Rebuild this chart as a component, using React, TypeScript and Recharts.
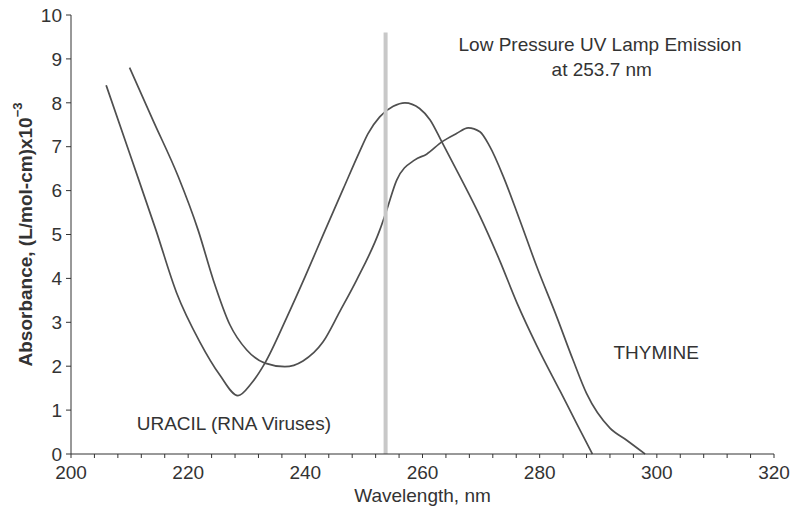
import React from 'react';
import { LineChart, Line, XAxis, YAxis, ReferenceDot, Label } from 'recharts';

const uracilX = [206, 210, 214.5, 218, 222, 225.4, 228.5, 230.8, 233.1, 236.8, 240, 243, 246.5, 249.3, 250.7, 252.7, 255, 257, 259.5, 261.3, 263.3, 266.4, 269.8, 273.2, 276.1, 279.5, 283.5, 286.3, 289];
const uracilY = [8.4, 6.85, 5.1, 3.68, 2.55, 1.8, 1.33, 1.61, 2.07, 3.1, 4.05, 4.98, 6.05, 6.9, 7.3, 7.68, 7.92, 8.0, 7.87, 7.61, 7.11, 6.32, 5.42, 4.4, 3.45, 2.47, 1.43, 0.7, 0];

const thymineX = [210, 214, 218.3, 221.7, 224.3, 227.1, 230, 233.1, 236.5, 239.6, 243, 245.9, 248.75, 252.7, 253.9, 255.6, 258.7, 260.7, 263.3, 265.8, 267.8, 269.8, 271.5, 273.8, 276.6, 279.5, 282.9, 285.7, 288, 292, 294.8, 298];
const thymineY = [8.8, 7.6, 6.32, 5.1, 3.96, 2.95, 2.37, 2.07, 1.99, 2.12, 2.55, 3.25, 3.96, 5.1, 5.56, 6.24, 6.7, 6.83, 7.11, 7.3, 7.43, 7.34, 7.0, 6.32, 5.33, 4.27, 3.13, 2.14, 1.38, 0.59, 0.32, 0];

const lampX = [253.7, 253.7];
const lampY = [0, 9.6];

const xTicks = [200, 204, 208, 212, 216, 220, 224, 228, 232, 236, 240, 244, 248, 252, 256, 260, 264, 268, 272, 276, 280, 284, 288, 292, 296, 300, 304, 308, 312, 316, 320];
const yTicks = [0, 1, 2, 3, 4, 5, 6, 7, 8, 9, 10];

const uracilData = uracilX.map((x, i) => ({ x, y: uracilY[i] }));
const thymineData = thymineX.map((x, i) => ({ x, y: thymineY[i] }));
const lampData = lampX.map((x, i) => ({ x, y: lampY[i] }));

const FONT = '"Liberation Sans", Arial, Helvetica, sans-serif';
const TEXT = '#333';
const CURVE = '#4f4f4f';

const YTitle = (props: any) => {
  const vb = props.viewBox || {};
  const cx = (vb.x || 0) + 25;
  const cy = (vb.y || 0) + (vb.height || 0) / 2;
  return (
    <text
      x={cx}
      y={cy}
      transform={`rotate(-90, ${cx}, ${cy})`}
      textAnchor="middle"
      dominantBaseline="central"
      fontFamily={FONT}
      fontSize={19}
      fontWeight="bold"
      fill={TEXT}
    >
      Absorbance, (L/mol-cm)x10
      <tspan fontSize={13} dy={-8}>−3</tspan>
    </text>
  );
};

const XTitle = (props: any) => {
  const vb = props.viewBox || {};
  const cx = (vb.x || 0) + (vb.width || 0) / 2;
  const y = (vb.y || 0) + 48;
  return (
    <text x={cx} y={y} textAnchor="middle" fontFamily={FONT} fontSize={19} fill={TEXT}>
      Wavelength, nm
    </text>
  );
};

const annot = (value: string) => ({
  value,
  position: 'center' as const,
  fontSize: 19,
  fill: TEXT,
  fontFamily: FONT,
});

export default function App() {
  return (
    <div style={{ position: 'absolute', left: 0, top: 0, width: 794, height: 510, background: '#fff', fontFamily: FONT }}>
      <LineChart width={794} height={510} margin={{ top: 15, right: 20, bottom: 0, left: 0 }}>
        <XAxis
          dataKey="x"
          type="number"
          domain={[200, 320]}
          ticks={xTicks}
          interval={0}
          allowDuplicatedCategory={false}
          tickFormatter={(v: number) => (v % 20 === 0 ? String(v) : '')}
          height={56}
          tickSize={4}
          tickMargin={8}
          stroke="#333"
          tick={{ fill: TEXT, fontSize: 19, fontFamily: FONT }}
        >
          <Label content={<XTitle />} />
        </XAxis>
        <YAxis
          type="number"
          domain={[0, 10]}
          ticks={yTicks}
          interval={0}
          width={71}
          tickSize={5}
          tickMargin={4}
          stroke="#333"
          tick={{ fill: TEXT, fontSize: 19, fontFamily: FONT }}
        >
          <Label content={<YTitle />} />
        </YAxis>
        <Line data={uracilData} dataKey="y" type="monotone" stroke={CURVE} strokeWidth={1.7} dot={false} isAnimationActive={false} />
        <Line data={thymineData} dataKey="y" type="monotone" stroke={CURVE} strokeWidth={1.7} dot={false} isAnimationActive={false} />
        <Line data={lampData} dataKey="y" type="linear" stroke="#c8c8c8" strokeWidth={4} dot={false} isAnimationActive={false} />
        <ReferenceDot x={290.3} y={9.33} r={0} fill="none" stroke="none" label={annot('Low Pressure UV Lamp Emission')} />
        <ReferenceDot x={290.6} y={8.77} r={0} fill="none" stroke="none" label={annot('at 253.7 nm')} />
        <ReferenceDot x={227.8} y={0.69} r={0} fill="none" stroke="none" label={annot('URACIL (RNA Viruses)')} />
        <ReferenceDot x={299.9} y={2.31} r={0} fill="none" stroke="none" label={annot('THYMINE')} />
      </LineChart>
    </div>
  );
}
